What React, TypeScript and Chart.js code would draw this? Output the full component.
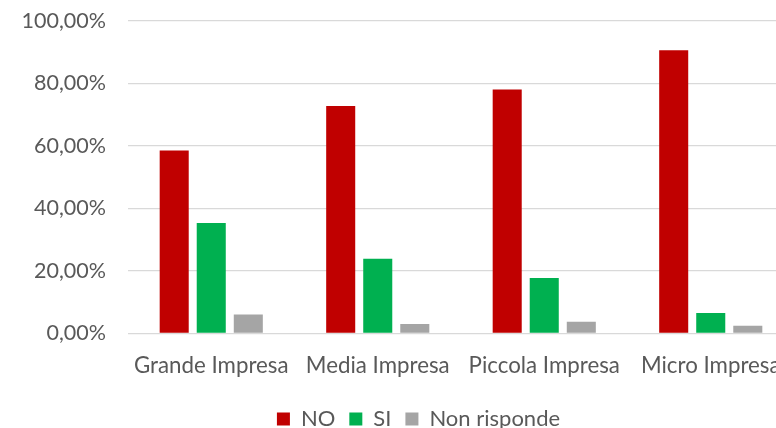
import React, { useEffect, useRef } from 'react';
import { Chart, registerables } from 'chart.js';
Chart.register(...registerables);

const categories = ['Grande Impresa', 'Media Impresa', 'Piccola Impresa', 'Micro Impresa'];
const noValues = [58.5, 72.8, 78.1, 90.6];
const siValues = [35.3, 23.9, 17.7, 6.5];
const nonRispondeValues = [6.0, 3.0, 3.7, 2.4];
const seriesLabels = ['NO', 'SI', 'Non risponde'];
const seriesColors = ['#C00000', '#00B050', '#A5A5A5'];

const FONT = 'Lato';
const FS_Y = 21.5;
const FS_X = 22.3;
const FS_L = 22;
const TEXT = '#595959';

export default function App() {
  const ref = useRef<HTMLCanvasElement>(null);
  useEffect(() => {
    const shiftLegend = {
      id: 'shiftLegend',
      afterLayout(chart: any) {
        const lg = chart.legend;
        if (lg) { lg.left += 21.5; lg.right += 21.5; }
      },
    };
    const chart = new Chart(ref.current!, {
      type: 'bar',
      data: {
        labels: categories,
        datasets: [noValues, siValues, nonRispondeValues].map((d, i) => ({
          label: seriesLabels[i],
          data: d,
          backgroundColor: seriesColors[i],
          categoryPercentage: 0.6675,
          barPercentage: 0.784,
        })),
      },
      plugins: [shiftLegend],
      options: {
        animation: false,
        responsive: false,
        devicePixelRatio: 1,
        layout: { padding: { top: 21, right: 43, left: 0, bottom: -11.9 } },
        plugins: {
          tooltip: { enabled: false },
          legend: {
            position: 'bottom',
            labels: {
              boxWidth: 13,
              boxHeight: 13,
              padding: 14,
              color: TEXT,
              font: { family: FONT, size: FS_L },
            },
          },
        },
        scales: {
          y: {
            min: 0,
            max: 100,
            ticks: {
              stepSize: 20,
              padding: 22,
              color: TEXT,
              font: { family: FONT, size: FS_Y },
              callback: (v: any) => Number(v).toFixed(2).replace('.', ',') + '%',
            },
            grid: { color: '#D9D9D9', lineWidth: 1.3, drawTicks: false },
            border: { display: false },
            afterFit: (s: any) => { s.width = 128; s.paddingTop = 0; s.paddingBottom = 0; },
          },
          x: {
            ticks: { padding: 19.5, color: TEXT, font: { family: FONT, size: FS_X } },
            grid: { display: false, drawTicks: false },
            border: { display: false },
            afterFit: (s: any) => { s.height = 60.6; },
          },
        },
      },
    });
    return () => chart.destroy();
  }, []);
  return (
    <div style={{ position: 'fixed', left: 0, top: 0, width: 776, height: 428, overflow: 'hidden', background: '#fff' }}>
      <canvas ref={ref} width={837} height={428} style={{ display: 'block' }} />
    </div>
  );
}
